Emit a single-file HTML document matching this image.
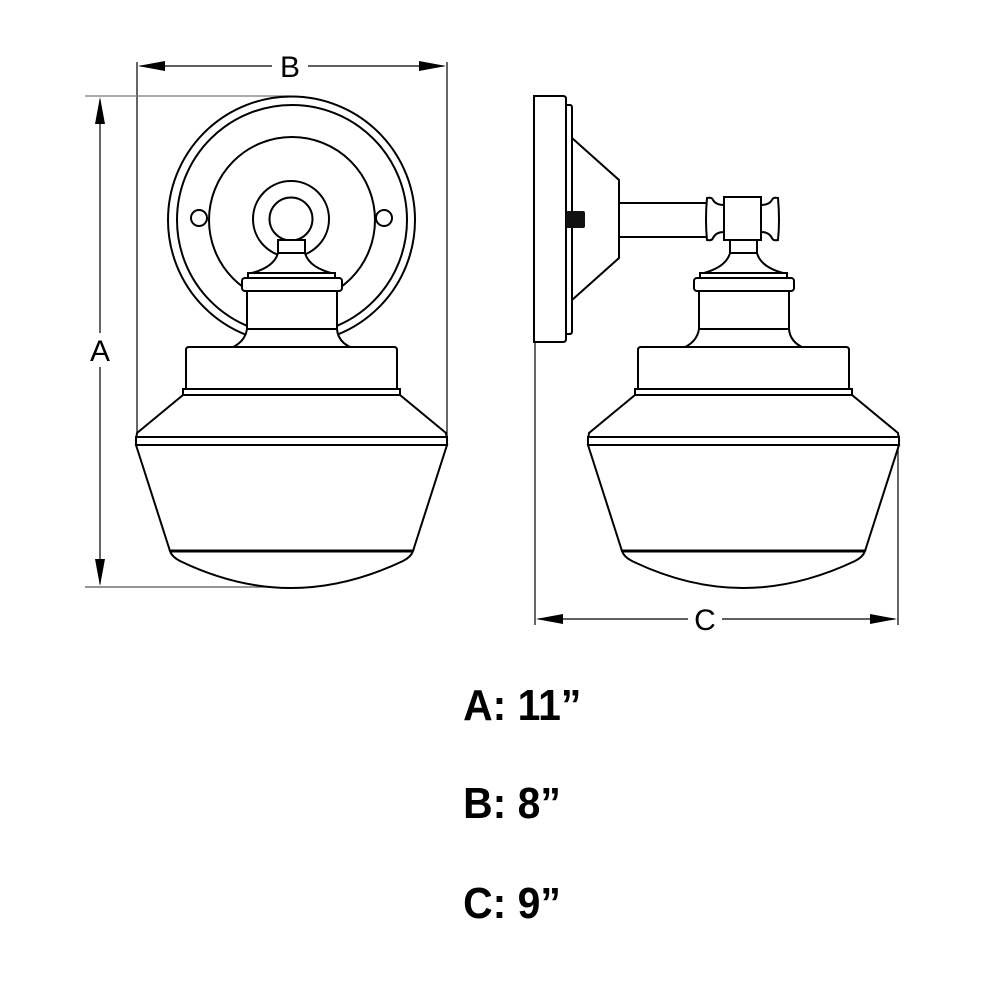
<!DOCTYPE html>
<html><head><meta charset="utf-8"><style>html,body{margin:0;padding:0;background:#fff}svg{display:block}</style></head>
<body>
<svg width="1000" height="1000" viewBox="0 0 1000 1000" xmlns="http://www.w3.org/2000/svg">
<defs>
<g id="fitter" fill="#fff" stroke="#000" stroke-width="2">
  <rect x="278" y="240" width="27" height="14"/>
  <path d="M248,274 Q274,268 278,253 L305,253 Q309,268 335,274 Z"/>
  <rect x="248" y="273" width="87" height="5"/>
  <rect x="242" y="278" width="100" height="13" rx="3"/>
  <rect x="247" y="291" width="90" height="38"/>
  <path d="M247,329 Q245,342 231,348 L352,348 Q338,342 337,329 Z"/>
</g>
<g id="shade" fill="#fff" stroke="#000" stroke-width="2">
  <path d="M186,389 L186,350 Q186,347 189,347 L394,347 Q397,347 397,350 L397,389 Z"/>
  <rect x="183" y="389" width="217" height="6"/>
  <path d="M183,395 L137,433 L136,440 L447,440 L446,433 L400,395 Z"/>
  <rect x="136" y="437" width="311" height="8"/>
  <path d="M136,445 L170,551 L413,551 L447,445 Z"/>
  <path d="M170,551 Q172,557 180,561 Q236,588 291,588 Q346,588 403,561 Q411,557 413,551 Z"/>
  <line x1="170" y1="551" x2="413" y2="551" stroke-width="3"/>
</g>
</defs>

<g stroke="#000" stroke-width="1.2" fill="none">
  <line x1="137" y1="62" x2="137" y2="437"/>
  <line x1="447" y1="62" x2="447" y2="437"/>
  <line x1="140" y1="66" x2="272" y2="66"/>
  <line x1="308" y1="66" x2="444" y2="66"/>
  <line x1="85" y1="96" x2="290" y2="96" stroke="#777"/>
  <line x1="85" y1="587" x2="290" y2="587" stroke="#555"/>
  <line x1="100" y1="100" x2="100" y2="333"/>
  <line x1="100" y1="367" x2="100" y2="584"/>
</g>
<g fill="#000">
  <polygon points="138,66 165,61 165,71"/>
  <polygon points="446,66 419,61 419,71"/>
  <polygon points="100,97 95,124 105,124"/>
  <polygon points="100,586 95,559 105,559"/>
</g>
<text x="290" y="77" font-family="Liberation Sans, sans-serif" font-size="30" text-anchor="middle">B</text>
<text x="100" y="361" font-family="Liberation Sans, sans-serif" font-size="30" text-anchor="middle">A</text>

<g fill="#fff" stroke="#000" stroke-width="2">
  <circle cx="291.5" cy="220" r="123.5"/>
  <circle cx="292" cy="220" r="115"/>
  <circle cx="292" cy="220" r="83"/>
  <circle cx="199" cy="218" r="8"/>
  <circle cx="384" cy="218" r="8"/>
  <circle cx="291" cy="219" r="38"/>
  <circle cx="291" cy="219" r="21.5"/>
</g>
<use href="#fitter"/>
<use href="#shade"/>

<g fill="#fff" stroke="#000" stroke-width="2">
  <path d="M534,96 L563,96 Q566,96 566,99 L566,339 Q566,342 563,342 L534,342 Z"/>
  <path d="M566,105 L570,105 Q572,105 572,108 L572,331 Q572,334 570,334 L566,334 Z"/>
  <path d="M572,138 L619,180 L619,258 L572,300 Z"/>
  <rect x="619" y="203" width="88" height="34"/>
  <path d="M707,198 Q712,197 713,200 Q716,205 724,205 L724,232 Q716,232 713,238 Q712,241 707,240 Q705,220 707,198 Z"/>
  <rect x="724" y="197" width="37" height="43"/>
  <path d="M778,198 Q773,197 772,200 Q769,205 761,205 L761,232 Q769,232 772,238 Q773,241 778,240 Q780,220 778,198 Z"/>
</g>
<rect x="566" y="211" width="19" height="17" rx="2" fill="#111"/>
<use href="#fitter" transform="translate(452,0)"/>
<use href="#shade" transform="translate(452,0)"/>

<g stroke="#000" stroke-width="1.2" fill="none">
  <line x1="535" y1="342" x2="535" y2="625"/>
  <line x1="898" y1="445" x2="898" y2="625"/>
  <line x1="538" y1="619" x2="688" y2="619"/>
  <line x1="722" y1="619" x2="895" y2="619"/>
</g>
<g fill="#000">
  <polygon points="536,619 563,614 563,624"/>
  <polygon points="897,619 870,614 870,624"/>
</g>
<text x="705" y="630" font-family="Liberation Sans, sans-serif" font-size="30" text-anchor="middle">C</text>

<g font-family="Liberation Sans, sans-serif" font-weight="bold" font-size="44" transform="scale(0.93,1)">
  <text x="498" y="720">A: 11”</text>
  <text x="498" y="818">B: 8”</text>
  <text x="498" y="918">C: 9”</text>
</g>
</svg>
</body></html>
